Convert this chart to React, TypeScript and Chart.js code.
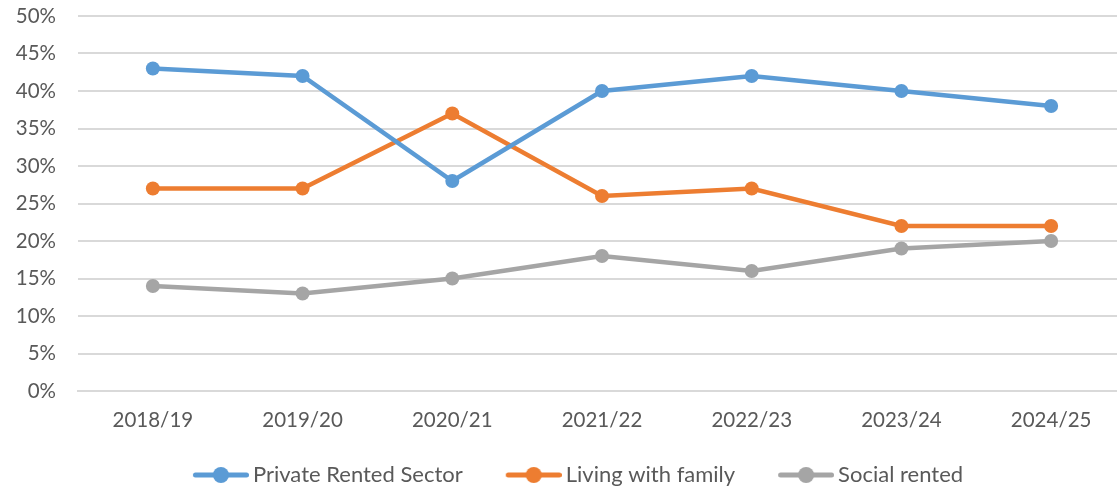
import React, { useEffect, useRef } from "react";
import { Chart, registerables } from "chart.js";

Chart.register(...registerables);

const categories = ["2018/19", "2019/20", "2020/21", "2021/22", "2022/23", "2023/24", "2024/25"];
const privateRented = [43, 42, 28, 40, 42, 40, 38];
const livingWithFamily = [27, 27, 37, 26, 27, 22, 22];
const socialRented = [14, 13, 15, 18, 16, 19, 20];
const seriesNames = ["Private Rented Sector", "Living with family", "Social rented"];
const seriesColors = ["#5B9BD5", "#ED7D31", "#A5A5A5"];

const ICON_BOX = 89;
const ICON_IMG = 103;
const ICON_W = 56;

function legendIcon(color: string): HTMLCanvasElement {
  const c = document.createElement("canvas");
  c.width = ICON_IMG;
  c.height = 18;
  const ctx = c.getContext("2d")!;
  const x0 = ICON_IMG - ICON_W;
  ctx.strokeStyle = color;
  ctx.lineWidth = 5;
  ctx.lineCap = "round";
  ctx.beginPath();
  ctx.moveTo(x0 + 2.5, 9);
  ctx.lineTo(x0 + ICON_W - 2.5, 9);
  ctx.stroke();
  ctx.fillStyle = color;
  ctx.beginPath();
  ctx.arc(x0 + ICON_W / 2, 9, 8, 0, Math.PI * 2);
  ctx.fill();
  return c;
}

export default function App() {
  const ref = useRef<HTMLCanvasElement | null>(null);
  useEffect(() => {
    document.body.style.margin = "0";
    document.body.style.overflow = "hidden";
    const family = "Lato, 'Open Sans', sans-serif";
    const tickFont = { family, size: 20.5 };
    const legendFont = { family, size: 22 };
    const icons = seriesColors.map(legendIcon);
    const data = [privateRented, livingWithFamily, socialRented];
    const chart = new Chart(ref.current!, {
      type: "line",
      data: {
        labels: categories,
        datasets: data.map((d, i) => ({
          label: seriesNames[i],
          data: d,
          borderColor: seriesColors[i],
          backgroundColor: seriesColors[i],
          borderWidth: 4.5,
          pointRadius: 7,
          pointHoverRadius: 7,
          pointBorderWidth: 0,
          tension: 0,
        })),
      },
      options: {
        animation: false,
        responsive: false,
        layout: { padding: { top: 16, left: -17, right: 0, bottom: 0 } },
        scales: {
          x: {
            offset: true,
            grid: { display: false, drawTicks: false },
            border: { display: true, color: "#D9D9D9", width: 2 },
            ticks: { color: "#595959", font: tickFont, padding: 17 },
            afterFit: (s: any) => { s.height = 70; },
          },
          y: {
            min: 0,
            max: 50,
            ticks: {
              stepSize: 5,
              color: "#595959",
              font: tickFont,
              padding: 22,
              callback: (v: any) => v + "%",
            },
            grid: { color: "#D9D9D9", lineWidth: 2, drawTicks: false },
            border: { display: false },
            afterFit: (s: any) => {
              s.width = 95;
              s.paddingTop = 0;
              s.paddingBottom = 0;
            },
          },
        },
        plugins: {
          tooltip: { enabled: false },
          legend: {
            position: "bottom",
            labels: {
              usePointStyle: true,
              pointStyleWidth: ICON_BOX,
              color: "#595959",
              font: legendFont,
              padding: 3,
              generateLabels: (ch: any) =>
                ch.data.datasets.map((ds: any, i: number) => ({
                  text: ds.label,
                  pointStyle: icons[i],
                  fillStyle: seriesColors[i],
                  strokeStyle: seriesColors[i],
                  fontColor: "#595959",
                  lineWidth: 0,
                  hidden: false,
                  datasetIndex: i,
                })),
            },
          },
        },
      },
    });
    return () => chart.destroy();
  }, []);
  return (
    <div style={{ position: "absolute", left: 0, top: 0, width: 1117, height: 488, overflow: "hidden" }}>
      <canvas ref={ref} width={1133} height={496} style={{ display: "block", width: 1133, height: 496 }} />
    </div>
  );
}
